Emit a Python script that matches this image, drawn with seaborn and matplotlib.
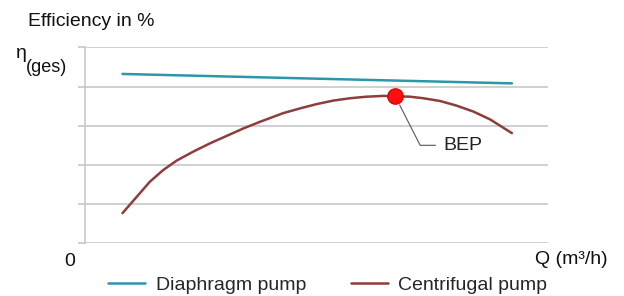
import numpy as np
import pandas as pd
import matplotlib
matplotlib.use("Agg")
import matplotlib.pyplot as plt
import seaborn as sns

# values (arbitrary units, axis has no scale)
q_diaphragm = [0.81, 4.64, 9.22]
eta_diaphragm = [4.32, 4.21, 4.08]

q_centrifugal = [0.81, 1.12, 1.40, 1.69, 1.98, 2.34, 2.70, 3.06, 3.42, 3.78,
                 4.28, 4.64, 5.00, 5.36, 5.72, 6.08, 6.44, 6.70, 7.02, 7.31,
                 7.67, 8.03, 8.39, 8.75, 9.22]
eta_centrifugal = [0.77, 1.19, 1.57, 1.87, 2.11, 2.34, 2.55, 2.74, 2.93, 3.10,
                   3.32, 3.44, 3.55, 3.64, 3.70, 3.74, 3.76, 3.75, 3.74, 3.70,
                   3.63, 3.51, 3.36, 3.16, 2.81]

bep_q = 6.70
bep_eta = 3.75

series_names = ["Diaphragm pump", "Centrifugal pump"]
grid_levels = [0, 1, 2, 3, 4, 5]

df = pd.DataFrame({
    "Q": q_diaphragm + q_centrifugal,
    "eta": eta_diaphragm + eta_centrifugal,
    "pump": [series_names[0]] * len(q_diaphragm) + [series_names[1]] * len(q_centrifugal),
})

sns.set_theme(style="white")
plt.rcParams["font.family"] = ["Liberation Sans", "DejaVu Sans"]

grid_col = "#c4c4c4"
palette = {series_names[0]: "#2a97ab", series_names[1]: "#8e3d3d"}

fig = plt.figure(figsize=(6.24, 2.96), dpi=100)
ax = fig.add_axes([85 / 624, 52.7 / 296, 463 / 624, 196 / 296])

sns.lineplot(data=df, x="Q", y="eta", hue="pump", palette=palette,
             hue_order=series_names, linewidth=1.8, ax=ax, legend=True,
             solid_joinstyle="round")

ax.plot([bep_q], [bep_eta], "o", color="#ff1010", markersize=11,
        markeredgecolor="#e00000", zorder=5)
ax.annotate("BEP", xy=(bep_q, bep_eta), xytext=(7.73, 2.50),
            ha="left", va="center", fontsize=14, color="#222222",
            arrowprops=dict(arrowstyle="-", color="#555555", lw=0.8,
                            connectionstyle="angle,angleA=0,angleB=-63,rad=0",
                            shrinkA=3, shrinkB=7))

ax.set_xlim(0, 10)
ax.set_ylim(0, 5)
ax.set_yticks(grid_levels)
ax.set_xticks([])
ax.yaxis.grid(True, color=grid_col, linewidth=1.1)
ax.tick_params(axis="y", length=5, width=1.1, color=grid_col, labelleft=False, left=True)
for side in ["top", "right", "bottom"]:
    ax.spines[side].set_visible(False)
ax.spines["left"].set_color(grid_col)
ax.spines["left"].set_linewidth(1.1)
ax.set_xlabel("")
ax.set_ylabel("")

handles, labels = ax.get_legend_handles_labels()
ax.get_legend().remove()
fig.legend(handles, labels, loc="center left", bbox_to_anchor=(108 / 624, 1 - 285 / 296),
           ncol=2, frameon=False, fontsize=14, borderpad=0, borderaxespad=0,
           handlelength=1.9, handletextpad=0.55, columnspacing=2.3)

fig.text(28 / 624, 1 - 22 / 296, "Efficiency in %", fontsize=14, ha="left", va="center",
         color="#111111")
fig.text(16 / 624, 1 - 53 / 296, "η", fontsize=14, ha="left", va="center", color="#111111")
fig.text(26 / 624, 1 - 67 / 296, "(ges)", fontsize=13, ha="left", va="center", color="#111111")
fig.text(70 / 624, 1 - 261 / 296, "0", fontsize=14, ha="center", va="center", color="#111111")
fig.text(608 / 624, 1 - 260 / 296, "Q (m³/h)", fontsize=14, ha="right", va="center",
         color="#111111")

fig.savefig("out.png", dpi=100)
